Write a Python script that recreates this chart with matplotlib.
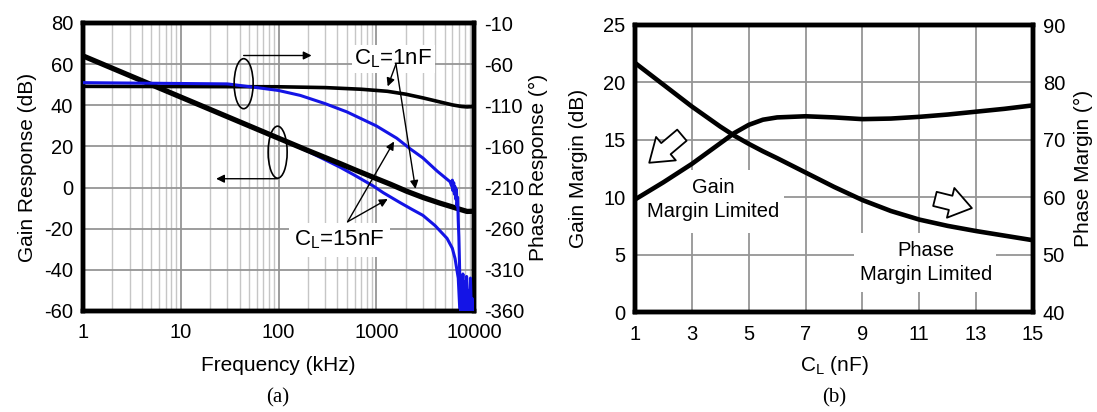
import numpy as np
import matplotlib
matplotlib.use('Agg')
import matplotlib.pyplot as plt
from matplotlib import transforms
from matplotlib.patches import Ellipse, Rectangle
from matplotlib.ticker import LogLocator, NullFormatter

plt.rcParams['font.family'] = ['Liberation Sans', 'DejaVu Sans']
plt.rcParams['mathtext.fontset'] = 'custom'
plt.rcParams['mathtext.rm'] = 'Liberation Sans'
plt.rcParams['mathtext.it'] = 'Liberation Sans:italic'
plt.rcParams['axes.unicode_minus'] = False

# ---- (a) loop gain / phase vs frequency (kHz) ----
freq_gain_1nF = [1, 10, 100, 200, 300, 430, 600, 930, 1400, 2050, 3000, 4500, 6000, 7200, 8500, 10000]
gain_1nF = [64, 44, 24, 18, 14.6, 11.6, 8.7, 5.0, 1.6, -1.8, -4.8, -7.6, -9.4, -10.6, -11.6, -11.5]

freq_gain_15nF = [1, 10, 100, 200, 300, 430, 600, 930, 1180, 1750, 2300, 3000, 4000, 5300, 6000, 6400, 6900, 7200]
gain_15nF = [64, 44, 24, 17.6, 13.5, 9.8, 6.0, 0.8, -2.5, -7.3, -10.5, -13.5, -18.5, -24.7, -29.5, -34.5, -44, -62]

freq_phase_1nF = [1, 100, 300, 700, 1300, 2000, 3000, 4500, 6000, 7500, 8500, 10000]
phase_1nF = [-87, -87.5, -88.5, -90.5, -93, -96.5, -101, -106, -109.5, -111.5, -112, -111.5]

freq_phase_15nF = [1, 30, 60, 100, 167, 300, 500, 1000, 1620, 2230, 3000, 4200, 5700,
                   5900, 6000, 6100, 6200, 6300, 6400, 6500, 6600, 6700, 6800, 6900, 7000,
                   7100, 7200, 7300, 7400, 7500, 7700, 7800, 8000, 8200, 8400, 8600, 8800,
                   9000, 9200, 9400, 9600, 9800]
phase_15nF = [-82.5, -84, -88.5, -92, -98, -108, -118, -135, -150, -163, -174, -190, -203,
              -208, -201, -214, -204, -218, -209, -224, -212, -232, -222, -250, -270,
              -300, -335, -362, -330, -362, -315, -362, -325, -362, -318, -362, -335,
              -362, -320, -362, -345, -362]

freq_ticks = [1, 10, 100, 1000, 10000]
freq_labels = ['1', '10', '100', '1000', '10000']
gain_ticks = [-60, -40, -20, 0, 20, 40, 60, 80]
phase_ticks = [-360, -310, -260, -210, -160, -110, -60, -10]

# ---- (b) margins vs load capacitance ----
cl_nf = [1, 2, 3, 4, 4.5, 5, 5.5, 6, 7, 8, 9, 10, 11, 12, 13, 14, 15]
gain_margin = [9.8, 11.3, 12.9, 14.7, 15.6, 16.3, 16.75, 16.95, 17.05, 16.95, 16.8, 16.85, 17.0, 17.2, 17.45, 17.7, 18.0]
phase_margin = [83.4, 79.6, 75.8, 72.3, 70.7, 69.3, 68.0, 66.8, 64.3, 61.8, 59.5, 57.6, 56.1, 55.0, 54.1, 53.3, 52.5]

cl_ticks = [1, 3, 5, 7, 9, 11, 13, 15]
gm_ticks = [0, 5, 10, 15, 20, 25]
pm_ticks = [40, 50, 60, 70, 80, 90]

FS = 14.5
LFS = 15
BLUE = '#1414e6'
GRID = '#959595'
SPINE_W = 3.2

fig = plt.figure(figsize=(10.97, 4.12), dpi=100)

# ================= panel (a) =================
ax1 = fig.add_axes([83/1097, 1-311/412, 391/1097, 288/412])
ax2 = ax1.twinx()

ax1.set_xscale('log')
ax1.set_xlim(1, 10000)
ax1.set_ylim(-60, 80)
ax2.set_ylim(-360, -10)
ax1.set_xticks(freq_ticks)
ax1.set_xticklabels(freq_labels)
ax1.xaxis.set_minor_locator(LogLocator(base=10, subs=range(2, 10)))
ax1.xaxis.set_minor_formatter(NullFormatter())
ax1.set_yticks(gain_ticks)
ax2.set_yticks(phase_ticks)
ax1.set_axisbelow(True)
ax1.grid(which='major', color=GRID, lw=1.3)
ax1.grid(which='minor', axis='x', color='#c6c6c6', lw=1.0)

ax1.plot(freq_gain_1nF, gain_1nF, color='black', lw=3.8, zorder=4, solid_capstyle='butt')
ax1.plot(freq_gain_15nF, gain_15nF, color=BLUE, lw=2.2, zorder=3)
ax2.plot(freq_phase_1nF, phase_1nF, color='black', lw=2.6, zorder=3)
ax2.plot(freq_phase_15nF, phase_15nF, color=BLUE, lw=2.2, zorder=4)

ax1.set_xlabel('Frequency (kHz)', fontsize=LFS, va='center')
ax1.xaxis.set_label_coords(0.5, -0.188)
ax1.set_ylabel('Gain Response (dB)', fontsize=LFS, va='center')
ax1.yaxis.set_label_coords(-0.143, 0.5)
ax2.set_ylabel('Phase Response (°)', fontsize=LFS, va='center', rotation=90)
ax2.yaxis.set_label_coords(1.164, 0.5)

# text labels with arrows
arrow_kw = dict(arrowstyle='-|>', color='black', lw=1.0, mutation_scale=12, shrinkA=0, shrinkB=0)
ax2.text(1500, -10 + (62.5 - 80) * 2.5, r'C$_\mathregular{L}$=1nF', fontsize=16, ha='center', va='center',
         bbox=dict(fc='white', ec='none', pad=2), zorder=5)
start_1n = (1590, 60.0)
f1, f2 = 1310, 2520
ax2.annotate('', xy=(f1, np.interp(np.log10(f1), np.log10(freq_phase_1nF), phase_1nF) + 6),
             xytext=start_1n, textcoords=ax1.transData, arrowprops=arrow_kw, zorder=6)
ax2.annotate('', xy=(f2, np.interp(np.log10(f2), np.log10(freq_gain_1nF), gain_1nF) + 2.8),
             xycoords=ax1.transData, xytext=start_1n, textcoords=ax1.transData, arrowprops=arrow_kw, zorder=6)

ax2.text(420, -10 + (-25.5 - 80) * 2.5, r'C$_\mathregular{L}$=15nF', fontsize=16, ha='center', va='center',
         bbox=dict(fc='white', ec='none', pad=4), zorder=5)
start_15n = (510, -16.6)
f3, f4 = 1520, 1310
ax2.annotate('', xy=(f3, np.interp(np.log10(f3), np.log10(freq_phase_15nF), phase_15nF) - 6),
             xytext=start_15n, textcoords=ax1.transData, arrowprops=arrow_kw, zorder=6)
ax2.annotate('', xy=(f4, np.interp(np.log10(f4), np.log10(freq_gain_15nF), gain_15nF) - 1.8),
             xycoords=ax1.transData, xytext=start_15n, textcoords=ax1.transData, arrowprops=arrow_kw, zorder=6)

# legend ellipses (phase -> right axis, gain -> left axis)
for (fx, gy, h) in [(44, 50.5, 0.50), (98, 17.2, 0.52)]:
    tr = fig.dpi_scale_trans + transforms.ScaledTranslation(fx, gy, ax1.transData)
    ax2.add_artist(Ellipse((0, 0), 0.19, h, transform=tr, fill=False, ec='black', lw=1.2, zorder=6))
ax2.annotate('', xy=(218, 64.2), xycoords=ax1.transData, xytext=(44, 64.2), textcoords=ax1.transData,
             arrowprops=arrow_kw, zorder=6)
ax2.annotate('', xy=(23, 4.3), xycoords=ax1.transData, xytext=(98, 4.3), textcoords=ax1.transData,
             arrowprops=arrow_kw, zorder=6)

# ================= panel (b) =================
ax3 = fig.add_axes([635/1097, 1-312/412, 398/1097, 287/412])
ax4 = ax3.twinx()
ax3.set_xlim(1, 15)
ax3.set_ylim(0, 25)
ax4.set_ylim(40, 90)
ax3.set_xticks(cl_ticks)
ax3.set_yticks(gm_ticks)
ax4.set_yticks(pm_ticks)
ax3.set_axisbelow(True)
ax3.grid(color=GRID, lw=1.3)

ax3.add_patch(Rectangle((1.0, 6.9), 5.25, 5.5, fc='white', ec='none', zorder=1.5))
ax3.add_patch(Rectangle((8.7, 1.7), 5.0, 5.2, fc='white', ec='none', zorder=1.5))
ax3.text(3.74, 9.83, 'Gain\nMargin Limited', fontsize=14.5, ha='center', va='center', linespacing=1.35, zorder=2)
ax3.text(11.24, 4.34, 'Phase\nMargin Limited', fontsize=14.5, ha='center', va='center', linespacing=1.35, zorder=2)

ax3.plot(cl_nf, gain_margin, color='black', lw=3.3, zorder=3)
ax4.plot(cl_nf, phase_margin, color='black', lw=3.3, zorder=3)

block = dict(arrowstyle='simple,head_length=0.75,head_width=1.05,tail_width=0.5',
             fc='white', ec='black', lw=1.3, shrinkA=0, shrinkB=0)
ax3.annotate('', xy=(1.5, 13.0), xytext=(2.65, 15.4), arrowprops=dict(block, mutation_scale=21), zorder=4)
ax3.annotate('', xy=(12.85, 9.05), xytext=(11.55, 9.85), arrowprops=dict(block, mutation_scale=21), zorder=4)

ax3.set_xlabel(r'C$_\mathregular{L}$ (nF)', fontsize=LFS, va='center')
ax3.xaxis.set_label_coords(0.5, -0.185)
ax3.set_ylabel('Gain Margin (dB)', fontsize=LFS, va='center')
ax3.yaxis.set_label_coords(-0.143, 0.5)
ax4.set_ylabel('Phase Margin (°)', fontsize=LFS, va='center', rotation=90)
ax4.yaxis.set_label_coords(1.126, 0.5)

for ax in (ax1, ax2, ax3, ax4):
    ax.tick_params(which='both', length=0, labelsize=FS)
    ax.tick_params(axis='x', pad=9)
    ax.tick_params(axis='y', pad=7)
    for s in ax.spines.values():
        s.set_linewidth(SPINE_W)
        s.set_color('black')

fig.text(278/1097, 1-398/412, '(a)', family='Liberation Serif', fontsize=15, ha='center', va='center')
fig.text(834/1097, 1-398/412, '(b)', family='Liberation Serif', fontsize=15, ha='center', va='center')

fig.savefig('out.png', dpi=100)
